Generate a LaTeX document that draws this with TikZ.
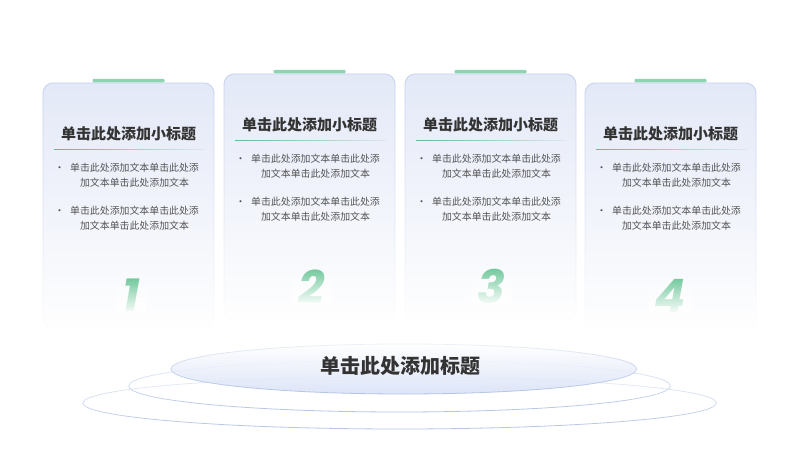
\documentclass[tikz,border=0pt]{standalone}
\usepackage{fontspec}
\setmainfont{Noto Sans CJK SC}
\newfontfamily\numfont{Poppins}
\usepackage{tikz}
\usetikzlibrary{positioning}
\usetikzlibrary{shapes.geometric}
\usetikzlibrary{fadings}
\usepackage{xcolor}

\definecolor{cardtop}{RGB}{228,233,248}
\definecolor{cardline}{RGB}{198,209,237}
\definecolor{bargreen}{RGB}{140,212,178}
\definecolor{linegreen}{RGB}{98,188,144}
\definecolor{numgreen}{RGB}{118,202,160}
\definecolor{titlegray}{RGB}{51,51,51}
\definecolor{bodygray}{RGB}{85,85,85}
\definecolor{ringblue}{RGB}{180,196,230}
\definecolor{discblue}{RGB}{212,222,246}

\tikzfading[name=fade down, top color=transparent!0, bottom color=transparent!100]
\tikzfading[name=fade num, top color=transparent!100, bottom color=transparent!5]
\tikzfading[name=fade rim, top color=transparent!75, bottom color=transparent!0]
\tikzfading[name=fade right, left color=transparent!0, right color=transparent!90]

\begin{document}
\begin{tikzpicture}[
  x=1pt, y=1pt,
  card/.style={draw=cardline, line width=0.8, fill=cardtop, rounded corners=10, minimum width=171, minimum height=246, inner sep=0, path fading=fade down},
  bar/.style={fill=bargreen, rounded corners=1, minimum width=72, minimum height=3.5, inner sep=0},
  subtitle/.style={font=\bfseries\fontsize{15}{18}\selectfont, text=titlegray, inner sep=0},
  sepline/.style={fill=linegreen, path fading=fade right},
  body/.style={font=\fontsize{9.9}{15}\selectfont, text=bodygray, align=center, inner sep=0},
  dot/.style={font=\fontsize{10}{10}\selectfont, text=bodygray, inner sep=0},
  num/.style={font=\numfont\bfseries\itshape\fontsize{46}{46}\selectfont, text=numgreen, inner sep=0},
  numfade/.style={fill=white, path fading=fade num},
  ring/.style={ellipse, draw=ringblue, line width=0.8, inner sep=0, path fading=fade rim},
  disc/.style={ellipse, top color=white, bottom color=discblue, fill opacity=0.8, inner sep=0},
  maintitle/.style={font=\bfseries\fontsize{20}{24}\selectfont, text=titlegray, inner sep=0}
]
\path[fill=white] (0,0) rectangle (800,450);

% platform
\node[ring, minimum width=634, minimum height=52] (R3) at (400,47) {};
\node[ring, minimum width=542, minimum height=52] (R2) at (400,64) {};
\node[disc, minimum width=466, minimum height=50] (D) at (404,81) {};
\node[ring, minimum width=466, minimum height=50] (Drim) at (D) {};
\node[maintitle] (H) at (400,84) {单击此处添加标题};

% card 1
\node[card] (C1) at (128.5,244) {};
\node[bar, above=0pt of C1] (B1) {};
\node[subtitle] (T1) at ([yshift=-51]C1.north) {单击此处添加小标题};
\fill[sepline] ([xshift=11,yshift=-67.6]C1.north west) rectangle ([xshift=-9,yshift=-66.4]C1.north east);
\node[dot] (D1a) at ([xshift=17,yshift=-86]C1.north west) {•};
\node[body] (P1a) at ([xshift=6,yshift=-92.5]C1.north) {单击此处添加文本单击此处添\\加文本单击此处添加文本};
\node[dot] (D1b) at ([xshift=17,yshift=-129]C1.north west) {•};
\node[body] (P1b) at ([xshift=6,yshift=-135.5]C1.north) {单击此处添加文本单击此处添\\加文本单击此处添加文本};
\node[num] (N1) at ([xshift=2.5,yshift=-213]C1.north) {1};
\fill[numfade] ([xshift=-6]N1.south west) rectangle ([xshift=6]N1.north east);

% card 2
\node[card] (C2) at (309.5,253) {};
\node[bar, above=0pt of C2] (B2) {};
\node[subtitle] (T2) at ([yshift=-51]C2.north) {单击此处添加小标题};
\fill[sepline] ([xshift=11,yshift=-67.6]C2.north west) rectangle ([xshift=-9,yshift=-66.4]C2.north east);
\node[dot] (D2a) at ([xshift=17,yshift=-86]C2.north west) {•};
\node[body] (P2a) at ([xshift=6,yshift=-92.5]C2.north) {单击此处添加文本单击此处添\\加文本单击此处添加文本};
\node[dot] (D2b) at ([xshift=17,yshift=-129]C2.north west) {•};
\node[body] (P2b) at ([xshift=6,yshift=-135.5]C2.north) {单击此处添加文本单击此处添\\加文本单击此处添加文本};
\node[num] (N2) at ([xshift=2.5,yshift=-213]C2.north) {2};
\fill[numfade] ([xshift=-6]N2.south west) rectangle ([xshift=6]N2.north east);

% card 3
\node[card] (C3) at (490.5,253) {};
\node[bar, above=0pt of C3] (B3) {};
\node[subtitle] (T3) at ([yshift=-51]C3.north) {单击此处添加小标题};
\fill[sepline] ([xshift=11,yshift=-67.6]C3.north west) rectangle ([xshift=-9,yshift=-66.4]C3.north east);
\node[dot] (D3a) at ([xshift=17,yshift=-86]C3.north west) {•};
\node[body] (P3a) at ([xshift=6,yshift=-92.5]C3.north) {单击此处添加文本单击此处添\\加文本单击此处添加文本};
\node[dot] (D3b) at ([xshift=17,yshift=-129]C3.north west) {•};
\node[body] (P3b) at ([xshift=6,yshift=-135.5]C3.north) {单击此处添加文本单击此处添\\加文本单击此处添加文本};
\node[num] (N3) at ([xshift=0.5,yshift=-213]C3.north) {3};
\fill[numfade] ([xshift=-6]N3.south west) rectangle ([xshift=6]N3.north east);

% card 4
\node[card] (C4) at (670.5,244) {};
\node[bar, above=0pt of C4] (B4) {};
\node[subtitle] (T4) at ([yshift=-51]C4.north) {单击此处添加小标题};
\fill[sepline] ([xshift=11,yshift=-67.6]C4.north west) rectangle ([xshift=-9,yshift=-66.4]C4.north east);
\node[dot] (D4a) at ([xshift=17,yshift=-86]C4.north west) {•};
\node[body] (P4a) at ([xshift=6,yshift=-92.5]C4.north) {单击此处添加文本单击此处添\\加文本单击此处添加文本};
\node[dot] (D4b) at ([xshift=17,yshift=-129]C4.north west) {•};
\node[body] (P4b) at ([xshift=6,yshift=-135.5]C4.north) {单击此处添加文本单击此处添\\加文本单击此处添加文本};
\node[num] (N4) at ([xshift=0,yshift=-213]C4.north) {4};
\fill[numfade] ([xshift=-6]N4.south west) rectangle ([xshift=6]N4.north east);

\end{tikzpicture}
\end{document}
